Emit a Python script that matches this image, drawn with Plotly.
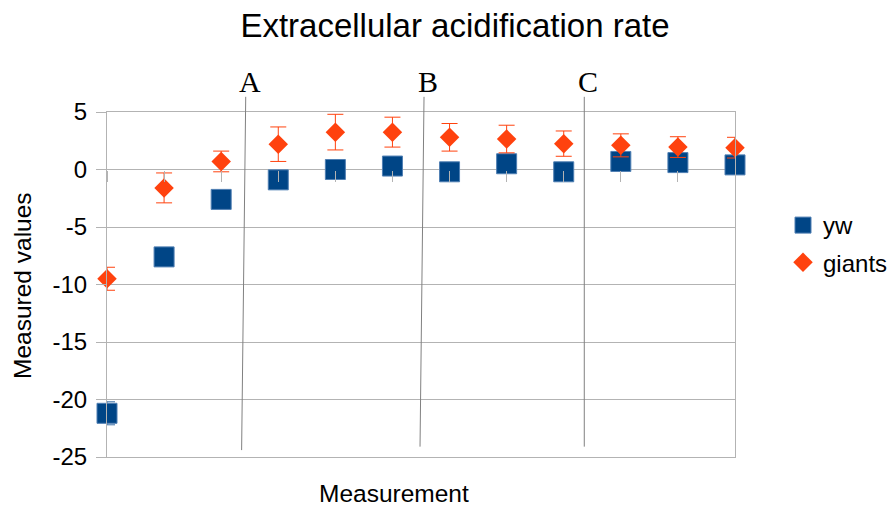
import plotly.graph_objects as go

# Measurement index along the x axis
measurements = list(range(1, 13))

# Series values and their error bars
yw_values = [-21.2, -7.6, -2.6, -0.9, 0.0, 0.3, -0.2, 0.5, -0.2, 0.7, 0.6, 0.4]
yw_errors = [1.0, 0.7, 0.6, 0.6, 0.5, 0.5, 0.5, 0.5, 0.5, 0.5, 0.5, 0.5]
giants_values = [-9.5, -1.6, 0.7, 2.2, 3.25, 3.25, 2.8, 2.65, 2.25, 2.1, 1.95, 1.9]
giants_errors = [1.0, 1.3, 0.9, 1.5, 1.55, 1.3, 1.2, 1.2, 1.1, 1.0, 0.9, 0.9]

# Y-axis ticks, labelled with a plain hyphen for negatives
y_tick_values = [5, 0, -5, -10, -15, -20, -25]
y_tick_labels = ["5", "0", "-5", "-10", "-15", "-20", "-25"]

# Phase markers: label, x at top of line, x at bottom of line (measurement units)
phase_labels = ["A", "B", "C"]
phase_top_x = [3.43, 6.553, 9.36]
phase_bottom_x = [3.358, 6.483, 9.36]
phase_bottom_y = [0.020, 0.030, 0.030]

BLUE = "#004586"
ORANGE = "#ff420e"
GRID = "#b3b3b3"
SANS = "Liberation Sans"
SERIF = "Liberation Serif"

W, H = 889, 509
L, R, T, B = 107, 154, 112, 52
X_MIN, X_MAX = measurements[0], measurements[-1]


def to_paper_x(v):
    """Convert a measurement-axis value into a paper fraction."""
    return (v - X_MIN) / (X_MAX - X_MIN)


def px_to_paper(px, py):
    """Convert a pixel position on the page into paper fractions."""
    return (px - L) / (W - L - R), (H - B - py) / (H - T - B)


fig = go.Figure()

fig.add_trace(go.Scatter(
    x=measurements, y=yw_values, name="yw", legendgroup="yw", mode="markers",
    marker=dict(symbol="square", size=20, color=BLUE,
                line=dict(width=1, color="#4f7fb3")),
    error_y=dict(type="data", array=yw_errors, visible=True,
                 color="#3a6ea5", thickness=1, width=8),
    cliponaxis=False,
))

fig.add_trace(go.Scatter(
    x=measurements, y=giants_values, name="giants", legendgroup="giants",
    mode="markers",
    marker=dict(symbol="diamond", size=15, color=ORANGE, line=dict(width=0)),
    error_y=dict(type="data", array=giants_errors, visible=True,
                 color=ORANGE, thickness=1, width=8),
    cliponaxis=False,
))

# Category tick marks sit on the zero line
fig.add_trace(go.Scatter(
    x=measurements, y=yw_values, xaxis="x2", mode="markers",
    marker=dict(opacity=0), showlegend=False, hoverinfo="skip",
))

for lab, xt, xb, yb in zip(phase_labels, phase_top_x, phase_bottom_x, phase_bottom_y):
    fig.add_shape(type="line", xref="paper", yref="paper",
                  x0=to_paper_x(xt), y0=1.044, x1=to_paper_x(xb), y1=yb,
                  line=dict(color="#808080", width=1))
    fig.add_annotation(x=to_paper_x(xt + 0.07), y=1.087,
                       xref="paper", yref="paper",
                       xanchor="center", yanchor="middle",
                       text=lab, showarrow=False,
                       font=dict(family=SERIF, size=30, color="black"))

mx, my = px_to_paper(394, 494)
fig.add_annotation(x=mx, y=my, xref="paper", yref="paper",
                   xanchor="center", yanchor="middle",
                   text="Measurement", showarrow=False,
                   font=dict(family=SANS, size=24.5, color="black"))

vx, vy = px_to_paper(22, 286)
fig.add_annotation(x=vx, y=vy, xref="paper", yref="paper",
                   xanchor="center", yanchor="middle", textangle=-90,
                   text="Measured values", showarrow=False,
                   font=dict(family=SANS, size=24.5, color="black"))

fig.update_layout(
    width=W, height=H,
    margin=dict(l=L, r=R, t=T, b=B, autoexpand=False),
    paper_bgcolor="white", plot_bgcolor="white",
    font=dict(family=SANS, color="black"),
    title=dict(text="Extracellular acidification rate",
               x=455 / W, xanchor="center", y=1 - 25 / H, yanchor="middle",
               font=dict(family=SANS, size=33, color="black")),
    xaxis=dict(range=[X_MIN, X_MAX], showgrid=False, zeroline=False,
               showticklabels=False, ticks="",
               showline=True, linecolor=GRID, linewidth=1, mirror=True),
    xaxis2=dict(range=[X_MIN, X_MAX], overlaying="x", anchor="free",
                position=25 / 30, side="bottom",
                tickmode="array", tickvals=measurements,
                ticks="outside", ticklen=11, tickcolor=GRID, tickwidth=1,
                showticklabels=False, showgrid=False, zeroline=False,
                showline=False),
    yaxis=dict(range=[-25, 5], tickmode="array",
               tickvals=y_tick_values, ticktext=y_tick_labels,
               showgrid=True, gridcolor=GRID, gridwidth=1, zeroline=False,
               showline=True, linecolor=GRID, linewidth=1, mirror=True,
               ticks="outside", ticklen=10, tickcolor=GRID,
               ticklabelstandoff=4,
               tickfont=dict(family=SANS, size=24, color="black")),
    legend=dict(xref="container", yref="container",
                x=783 / W, y=1 - 203 / H, xanchor="left", yanchor="top",
                font=dict(family=SANS, size=24, color="black"),
                itemsizing="trace", tracegroupgap=3,
                bgcolor="rgba(0,0,0,0)"),
    showlegend=True,
)

fig.write_html("out.html")
